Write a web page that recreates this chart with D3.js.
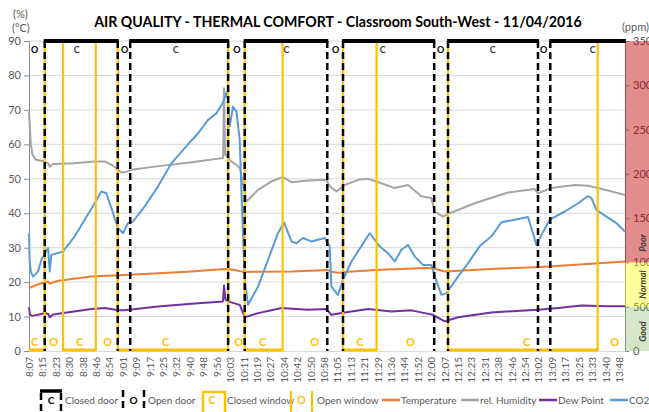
<!DOCTYPE html>
<html><head><meta charset="utf-8">
<script src="https://cdn.jsdelivr.net/npm/d3@7"></script>
<style>body{margin:0;background:#fff}svg{display:block;font-family:Lato,'Open Sans',sans-serif}</style>
</head><body><svg id="c" width="649" height="412"></svg>
<script>
// ---- data ----
const title = "AIR QUALITY - THERMAL COMFORT - Classroom South-West - 11/04/2016";
const tickLabels = ["8:07","8:15","8:23","8:30","8:38","8:46","8:54","9:01","9:09","9:17","9:25","9:32","9:40","9:48","9:56","10:03","10:11","10:19","10:27","10:34","10:42","10:50","10:58","11:05","11:13","11:21","11:29","11:36","11:44","11:52","12:00","12:07","12:15","12:23","12:31","12:38","12:46","12:54","13:02","13:09","13:17","13:25","13:33","13:40","13:48"];
const tickSpan = 341;           // minutes from first to last tick label
const endMinute = 344.5;        // last sample, minutes after 8:07
const leftTicks = [0,10,20,30,40,50,60,70,80,90];
const rightTicks = [0,500,1000,1500,2000,2500,3000,3500];
const bandNames = ["Good","Normal","Poor"];
const bandFrom = [0,500,1000];
const bandTo = [500,1000,3500];
const bandLabelAt = [220,750,1220];   // ppm where the band name sits

// minutes after 8:07
const tempT = [0,5,9,11,12,17,36,55,75,94,113,118,124.7,130,152,173,175,178.6,185,200,228.7,233.5,240.3,267,296,325,344.5];
const tempV = [18.3,19.3,20,20.2,19.6,20.4,21.6,22.1,22.6,23.1,23.8,23.6,22.9,23.0,23.1,23.5,23.0,22.7,23.0,23.5,24.1,24.0,23.1,23.8,24.4,25.3,26.0];

const humT = [0,0.5,1,2,4,9,11,12,14,26,38,44,48.6,53.4,56,59.2,74,94,112.2,112.7,113.4,114.5,117,120,122,125.7,132.4,140,146.8,151.7,161.3,171.9,173.8,177.7,182.5,190.2,196,203.7,211.4,219.1,226.8,232.6,234.5,239.3,243.2,257.6,276.9,292.3,294.2,301.9,315.4,323.1,328.9,344.5];
const humV = [69.5,65,60.3,57,55.5,55,54.5,53.5,54.3,54.5,55,55,53.8,51.8,52,52.6,53.6,54.8,56,76.3,57,56.5,55,54,53,43.4,46.8,49.2,50.5,49,49.5,49.7,47.8,46.3,48.2,49.7,50,48.7,47.3,48.2,44.9,44.4,40.5,39,40,42.9,46,47,45.8,47.3,48.2,48,47.3,45.3];

const dewT = [0,0.5,2,5.2,9.1,11,12,14,16.8,36,43.8,51.4,55.3,74.6,93.9,112.1,112.7,113.5,115,121.8,124.7,132.4,146,161.3,171.9,174.8,182.5,196,209.5,221.1,228.7,233.5,240.3,248,267.3,294.2,305.8,319.3,334.7,344.5];
const dewV = [12.7,10.5,10.2,10.5,11,10.8,9.8,10.6,10.8,12.2,12.5,11.8,11.8,12.9,13.7,14.4,19,15,14.4,13.4,9.8,11,12.5,12,12.2,10.5,11.2,12.2,11.5,11.8,11,10.5,8.6,9.8,11.2,12,12.5,13.2,13,13];

const co2T = [0,0.4,1,2.3,5.2,7.2,9.1,11,12,12.9,19.7,26.4,32.2,38,41.8,44.7,48.6,51.4,54.3,57.2,60.1,66.9,74.6,82.3,90,97.7,103.5,108.3,112,114.1,115,116,117.9,119.9,121.8,123.1,124.7,126.6,132.4,138.2,143.9,147.4,151.7,154.6,158.4,163.2,170.9,173.8,174.8,178.6,181.5,186.4,192.1,196.9,202.7,207.5,211.4,215.3,219.1,223,227.7,232.6,235.5,238.4,241.3,248,253.8,260.5,267.3,273.1,280.8,288.4,291.3,293.3,296.2,301,309.7,317.4,323.1,325.1,328,333.8,339.6,344.5];
const co2V = [1330,1011,898,840,898,1031,1104,1163,898,1085,1124,1295,1482,1668,1801,1781,1556,1388,1330,1443,1462,1633,1859,2119,2291,2458,2609,2683,2800,2917,2839,2536,2757,2703,2384,1633,805,521,727,1031,1330,1451,1237,1217,1276,1237,1276,1182,727,634,805,1011,1182,1330,1182,1104,1011,1143,1198,1066,972,972,786,634,653,840,992,1182,1295,1454,1482,1513,1330,1198,1311,1482,1575,1668,1750,1727,1594,1517,1443,1349];

// door: closed periods (minutes after 8:07)
const doorClosedFrom = [9.1,58.5,124.7,181.5,242.2,301.3];
const doorClosedTo   = [51.3,115.1,172.4,234.2,294.2,344.5];
const doorLabelT = [3.3,27.6,55.3,84.8,120.1,148.9,177.3,204.4,238,268,297.5,325.8];
const doorLabelS = ["O","C","O","C","O","C","O","C","O","C","O","C"];
// window: closed periods
const winClosedFrom = [0,19.7,51.3,124.7,181.5,242.2];
const winClosedTo   = [9.1,38.6,115.1,146.6,200.9,328.7];
const winLabelT = [3.3,14.3,29.3,45.5,79,121.2,135,165.1,191.2,220.5,287.7,338.6];
const winLabelS = ["C","O","C","O","C","O","C","O","C","O","C","O"];

const seriesNames = ["Temperature","rel. Humidity","Dew Point","CO2"];
const seriesColors = ["#ED7D31","#A5A5A5","#7030A0","#5B9BD5"];

// ---- drawing ----
const svg = d3.select("#c");
const W=649, L=29, R=625, T=41, B=351;
const x = d3.scaleLinear().domain([0,endMinute]).range([L,R]);
const yL = d3.scaleLinear().domain([0,90]).range([B,T]);
const yR = d3.scaleLinear().domain([0,3500]).range([B,T]);
const gray="#595959", gold="#FFC000";

// gridlines
svg.append("g").selectAll("line").data(leftTicks.filter(v=>v>0)).join("line")
  .attr("x1",L).attr("x2",R).attr("y1",d=>yL(d)).attr("y2",d=>yL(d))
  .attr("stroke","#D9D9D9").attr("stroke-width",1);

// left axis
const ga = svg.append("g").attr("transform",`translate(${L},0)`)
  .call(d3.axisLeft(yL).tickValues(leftTicks).tickSize(5).tickPadding(3));
ga.select(".domain").attr("stroke","#8C8C8C");
ga.selectAll(".tick line").attr("stroke","#8C8C8C");
ga.selectAll("text").attr("fill",gray).style("font-size","11px").style("font-family","Lato");

// right axis
const gr = svg.append("g").attr("transform",`translate(${R},0)`)
  .call(d3.axisRight(yR).tickValues(rightTicks).tickSize(4).tickPadding(4).tickFormat(d3.format("d")));
gr.select(".domain").attr("stroke","#8C8C8C");
gr.selectAll(".tick line").attr("stroke","#8C8C8C");
gr.selectAll("text").attr("fill",gray).style("font-size","11px").style("font-family","Lato");

// bottom axis
const tickVals = tickLabels.map((d,i)=>i*tickSpan/(tickLabels.length-1));
const gb = svg.append("g").attr("transform",`translate(0,${B})`)
  .call(d3.axisBottom(x).tickValues(tickVals).tickSize(0).tickFormat((d,i)=>tickLabels[i]));
gb.select(".domain").attr("stroke","#D9D9D9");
gb.selectAll("text").attr("fill",gray).style("font-size","10px").style("font-family","Lato")
  .attr("transform","rotate(-90)").attr("text-anchor","end").attr("x",-6).attr("y",0).attr("dy","0.35em");

// CO2 bands on right
const bandFill = {Good:["#70AD47",0.3],Normal:["#FFFF00",0.4],Poor:["#C00000",0.45]};
svg.append("g").selectAll("rect").data(bandNames).join("rect")
  .attr("x",R).attr("width",W-R).attr("y",(d,i)=>yR(bandTo[i])).attr("height",(d,i)=>yR(bandFrom[i])-yR(bandTo[i]))
  .attr("fill",d=>bandFill[d][0]).attr("fill-opacity",d=>bandFill[d][1]);
svg.append("g").selectAll("text").data(bandNames).join("text")
  .attr("transform",(d,i)=>`translate(643,${yR(bandLabelAt[i])}) rotate(-90)`)
  .attr("text-anchor","middle").attr("dy","0.35em")
  .style("font-size","9px").style("font-weight","bold").style("font-style","italic")
  .attr("fill","#404040").text(d=>d);

// series
const line = (ys)=>d3.line().x(d=>x(d[0])).y(d=>ys(d[1]));
const series = [
  [tempT,tempV,yL],[humT,humV,yL],[dewT,dewV,yL],[co2T,co2V,yR]
];
series.forEach((s,i)=>{
  svg.append("path").datum(s[0].map((t,j)=>[t,s[1][j]]))
    .attr("d",line(s[2])).attr("fill","none").attr("stroke",seriesColors[i])
    .attr("stroke-width",2).attr("stroke-linejoin","round");
});

// windows
const winEdges = Array.from(new Set([...winClosedFrom,...winClosedTo])).filter(t=>t>0.5 && t<endMinute-0.5);
svg.append("g").selectAll("line").data(winEdges).join("line")
  .attr("x1",d=>x(d)).attr("x2",d=>x(d)).attr("y1",T).attr("y2",B)
  .attr("stroke",gold).attr("stroke-width",2.2);
svg.append("g").selectAll("line").data(winClosedFrom).join("line")
  .attr("x1",d=>x(d)).attr("x2",(d,i)=>x(winClosedTo[i])).attr("y1",B-1).attr("y2",B-1)
  .attr("stroke",gold).attr("stroke-width",3.2);
svg.append("g").selectAll("text").data(winLabelT).join("text")
  .attr("x",d=>x(d)).attr("y",346).attr("text-anchor","middle")
  .style("font-size","11px").style("font-weight","bold").attr("fill",gold)
  .text((d,i)=>winLabelS[i]);

// doors
const doorEdges = Array.from(new Set([...doorClosedFrom,...doorClosedTo])).filter(t=>t>0.5 && t<endMinute-0.5);
svg.append("g").selectAll("line").data(doorEdges).join("line")
  .attr("x1",d=>x(d)).attr("x2",d=>x(d)).attr("y1",T).attr("y2",B)
  .attr("stroke","#000").attr("stroke-width",2.5).attr("stroke-dasharray","7,4");
svg.append("g").selectAll("line").data(doorClosedFrom).join("line")
  .attr("x1",d=>x(d)-1).attr("x2",(d,i)=>x(doorClosedTo[i])+1).attr("y1",T).attr("y2",T)
  .attr("stroke","#000").attr("stroke-width",4);
svg.append("g").selectAll("text").data(doorLabelT).join("text")
  .attr("x",d=>x(d)).attr("y",53).attr("text-anchor","middle")
  .style("font-size","9px").style("font-weight","bold").attr("fill",(d,i)=>doorLabelS[i]==="C"?"#404040":"#000")
  .text((d,i)=>doorLabelS[i]);

// titles
const tt = svg.append("text").attr("x",338).attr("y",27).attr("text-anchor","middle")
  .style("font-size","15px").style("font-weight","bold").attr("fill","#000").text(title);
const tw = tt.node().getComputedTextLength();
tt.style("font-size",(15*488/tw).toFixed(2)+"px");
svg.append("text").attr("x",13).attr("y",18).style("font-size","11px").attr("fill",gray).text("(%)");
svg.append("text").attr("x",12).attr("y",32).style("font-size","11px").attr("fill",gray).text("(°C)");
svg.append("text").attr("x",622).attr("y",31).style("font-size","11px").attr("fill",gray).text("(ppm)");

// legend
const lg = svg.append("g");
const ly = 400;
// closed door
lg.append("line").attr("x1",40).attr("x2",62).attr("y1",391).attr("y2",391).attr("stroke","#000").attr("stroke-width",3.5);
[41,61].forEach(px=>lg.append("line").attr("x1",px).attr("x2",px).attr("y1",393).attr("y2",412).attr("stroke","#000").attr("stroke-width",2.5).attr("stroke-dasharray","7,4"));
lg.append("text").attr("x",51).attr("y",ly+3.5).attr("text-anchor","middle").style("font-size","10px").style("font-weight","bold").text("C");
lg.append("text").attr("x",65).attr("y",ly+3.5).style("font-size","10px").attr("fill",gray).text("Closed door");
// open door
[123,144].forEach(px=>lg.append("line").attr("x1",px).attr("x2",px).attr("y1",390).attr("y2",412).attr("stroke","#000").attr("stroke-width",2.5).attr("stroke-dasharray","7,4"));
lg.append("text").attr("x",133.5).attr("y",ly+3.5).attr("text-anchor","middle").style("font-size","10px").style("font-weight","bold").text("O");
lg.append("text").attr("x",148).attr("y",ly+3.5).style("font-size","10px").attr("fill",gray).text("Open door");
// closed window
lg.append("path").attr("d","M203,412V392H225V412").attr("fill","none").attr("stroke",gold).attr("stroke-width",2.5);
lg.append("text").attr("x",212).attr("y",ly+3.5).attr("text-anchor","middle").style("font-size","11px").style("font-weight","bold").attr("fill",gold).text("C");
lg.append("text").attr("x",227).attr("y",ly+3.5).style("font-size","10px").attr("fill",gray).text("Closed window");
// open window
[291,312].forEach(px=>lg.append("line").attr("x1",px).attr("x2",px).attr("y1",391).attr("y2",412).attr("stroke",gold).attr("stroke-width",2.2));
lg.append("text").attr("x",301.5).attr("y",ly+3.5).attr("text-anchor","middle").style("font-size","11px").style("font-weight","bold").attr("fill",gold).text("O");
lg.append("text").attr("x",317).attr("y",ly+3.5).style("font-size","10px").attr("fill",gray).text("Open window");
// series legend
const lx = [382,461,539,610];
seriesNames.forEach((n,i)=>{
  lg.append("line").attr("x1",lx[i]).attr("x2",lx[i]+18).attr("y1",ly).attr("y2",ly).attr("stroke",seriesColors[i]).attr("stroke-width",2.5);
  lg.append("text").attr("x",lx[i]+19).attr("y",ly+3.5).style("font-size","10px").attr("fill",gray).text(n);
});
</script></body></html>
